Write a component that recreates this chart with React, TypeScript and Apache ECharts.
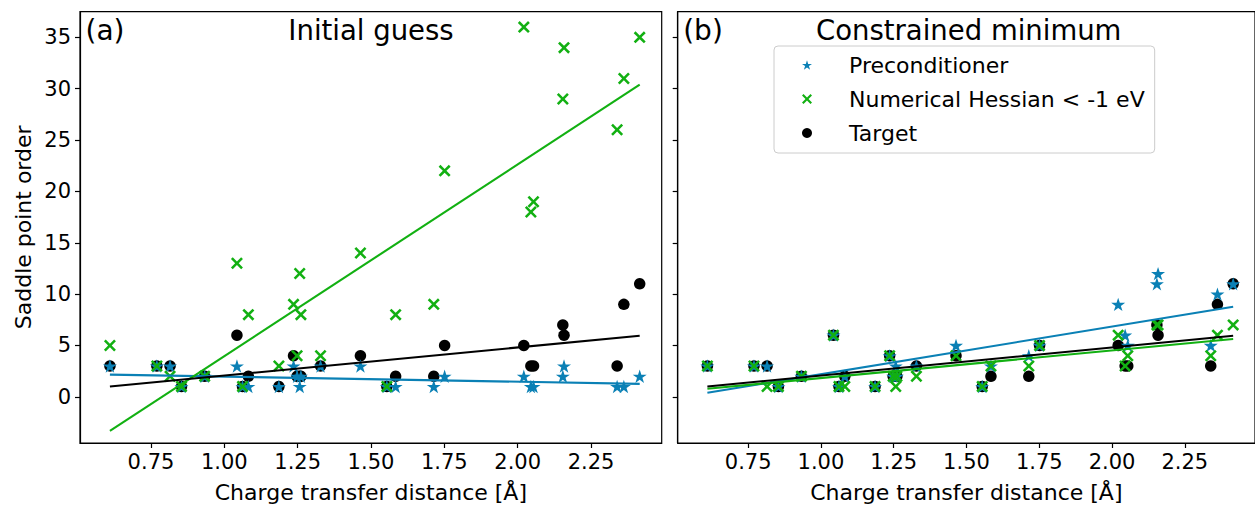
import { useEffect, useRef } from 'react';
import * as echarts from 'echarts';

// Charge transfer distance of each system [Å]
const distance = [
  0.61, 0.77, 0.815, 0.854, 0.933, 1.043, 1.062, 1.082, 1.186, 1.236, 1.248, 1.257, 1.261, 1.328,
  1.464, 1.554, 1.584, 1.714, 1.751, 2.021, 2.045, 2.054, 2.154, 2.158, 2.339, 2.362, 2.416,
];
// Saddle point order of the target saddle point
const targetOrder = [3, 3, 3, 1, 2, 6, 1, 2, 1, 4, 2, 2, 2, 3, 4, 1, 2, 2, 5, 5, 3, 3, 7, 6, 3, 9, 11];
// (a) initial guess
const precondInitial = [3, 3, 3, 1, 2, 3, 1, 1, 1, 3, 2, 1, 2, 3, 3, 1, 1, 1, 2, 2, 1, 1, 2, 3, 1, 1, 2];
const hessianInitial = [5, 3, 2, 1, 2, 13, 1, 8, 3, 9, 4, 12, 8, 4, 14, 1, 8, 9, 22, 36, 18, 19, 29, 34, 26, 31, 35];
// (b) constrained minimum
const precondConstrained = [3, 3, 3, 1, 2, 6, 1, 2, 1, 4, 2, 3, 2, 3, 5, 1, 3, 4, 5, 9, 6, 5, 11, 12, 5, 10, 11];
const hessianConstrained = [3, 3, 1, 1, 2, 6, 1, 1, 1, 4, 2, 1, 2, 2, 4, 1, 3, 3, 5, 6, 3, 4, 7, 7, 4, 6, 7];

// Linear trend lines: values at the two ends of the distance range
const trendRange = [0.61, 2.416];
const trendTarget = [1.0, 5.94];
const trendPrecondInitial = [2.16, 1.26];
const trendHessianInitial = [-3.33, 30.4];
const trendPrecondConstrained = [0.39, 8.77];
const trendHessianConstrained = [0.78, 5.63];

const xTicks = [0.75, 1.0, 1.25, 1.5, 1.75, 2.0, 2.25];
const yTicks = [0, 5, 10, 15, 20, 25, 30, 35];
const panelTitles = ['Initial guess', 'Constrained minimum'];
const panelTags = ['(a)', '(b)'];
const seriesNames = ['Preconditioner', 'Numerical Hessian < -1 eV', 'Target'];

const FONT = 'DejaVu Sans';
const BLUE = '#0a80b5';
const GREEN = '#12b012';
const BLACK = '#000000';

const STAR =
  'path://M10,0 L12.245,6.91 L19.511,6.91 L13.633,11.18 L15.878,18.09 L10,13.82 L4.122,18.09 L6.367,11.18 L0.489,6.91 L7.755,6.91 Z';
const CROSS =
  'path://M1.8,0 L6,4.2 L10.2,0 L12,1.8 L7.8,6 L12,10.2 L10.2,12 L6,7.8 L1.8,12 L0,10.2 L4.2,6 L0,1.8 Z';

const X_MIN = 0.508;
const X_MAX = 2.491;
const Y_MIN = -4.5;
const Y_MAX = 37.5;

const gridLayout = [
  { left: 80, top: 11.7, width: 581.7, height: 432.6 },
  { left: 677.7, top: 11.7, width: 582, height: 432.6 },
];

function points(values: number[]) {
  return distance.map((x, i) => [x, values[i]]);
}

function trend(values: number[]) {
  return trendRange.map((x, i) => [x, values[i]]);
}

function panelSeries(idx: number, precond: number[], hessian: number[], precondTrend: number[], hessianTrend: number[]) {
  const axes = { xAxisIndex: idx, yAxisIndex: idx };
  const line = (name: string, data: number[][], color: string) => ({
    type: 'line',
    name,
    ...axes,
    data,
    symbol: 'none',
    showSymbol: false,
    silent: true,
    z: 3,
    lineStyle: { color, width: 2.1 },
    itemStyle: { color },
  });
  return [
    {
      type: 'scatter',
      name: seriesNames[2],
      ...axes,
      data: points(targetOrder),
      symbol: 'circle',
      symbolSize: 11.5,
      itemStyle: { color: BLACK, opacity: 1 },
    },
    {
      type: 'scatter',
      name: seriesNames[0],
      ...axes,
      data: points(precond),
      symbol: STAR,
      symbolSize: 14,
      symbolKeepAspect: true,
      itemStyle: { color: BLUE, opacity: 1 },
    },
    {
      type: 'scatter',
      name: seriesNames[1],
      ...axes,
      data: points(hessian),
      symbol: CROSS,
      symbolSize: 12,
      itemStyle: { color: GREEN, opacity: 1 },
    },
    line('trend-precond-' + idx, trend(precondTrend), BLUE),
    line('trend-hessian-' + idx, trend(hessianTrend), GREEN),
    line('trend-target-' + idx, trend(trendTarget), BLACK),
  ];
}

function buildOption() {
  const axisLineStyle = { color: BLACK, width: 1.2 };
  const xAxes = [0, 1].map((i) => ({
    type: 'value',
    gridIndex: i,
    min: X_MIN,
    max: X_MAX,
    splitLine: { show: false },
    axisLine: { show: true, onZero: false, lineStyle: axisLineStyle },
    axisTick: { show: true, inside: false, length: 5, lineStyle: axisLineStyle, customValues: xTicks },
    axisLabel: {
      show: true,
      customValues: xTicks,
      formatter: (v: number) => v.toFixed(2),
      fontSize: 21,
      fontFamily: FONT,
      color: BLACK,
      margin: 8,
    },
    name: 'Charge transfer distance [Å]',
    nameLocation: 'middle',
    nameGap: 38,
    nameTextStyle: { fontSize: 22, fontFamily: FONT, color: BLACK },
  }));
  const yAxes = [0, 1].map((i) => ({
    type: 'value',
    gridIndex: i,
    min: Y_MIN,
    max: Y_MAX,
    splitLine: { show: false },
    axisLine: { show: true, onZero: false, lineStyle: axisLineStyle },
    axisTick: { show: true, inside: false, length: 5, lineStyle: axisLineStyle, customValues: yTicks },
    axisLabel: {
      show: i === 0,
      customValues: yTicks,
      formatter: (v: number) => String(v),
      fontSize: 21,
      fontFamily: FONT,
      color: BLACK,
      margin: 9,
    },
    name: i === 0 ? 'Saddle point order' : '',
    nameLocation: 'middle',
    nameGap: 46,
    nameTextStyle: { fontSize: 22, fontFamily: FONT, color: BLACK },
  }));

  const graphic: any[] = [];
  gridLayout.forEach((g, i) => {
    graphic.push({
      type: 'text',
      x: g.left + 5.5,
      y: 30.5,
      silent: true,
      style: {
        text: panelTags[i],
        fill: BLACK,
        font: `28px "${FONT}"`,
        textAlign: 'left',
        textVerticalAlign: 'middle',
        align: 'left',
        verticalAlign: 'middle',
      },
    });
    graphic.push({
      type: 'text',
      x: g.left + 291,
      y: 30,
      silent: true,
      style: {
        text: panelTitles[i],
        fill: BLACK,
        font: `27.5px "${FONT}"`,
        textAlign: 'center',
        textVerticalAlign: 'middle',
        align: 'center',
        verticalAlign: 'middle',
      },
    });
  });

  return {
    animation: false,
    backgroundColor: '#ffffff',
    grid: gridLayout.map((g) => ({
      ...g,
      show: true,
      borderColor: BLACK,
      borderWidth: 1.2,
      backgroundColor: 'transparent',
      containLabel: false,
    })),
    xAxis: xAxes,
    yAxis: yAxes,
    legend: {
      data: seriesNames,
      orient: 'vertical',
      left: 774,
      top: 46,
      padding: [8, 10, 9, 28],
      itemWidth: 10,
      itemHeight: 10,
      itemGap: 12,
      selectedMode: false,
      backgroundColor: 'rgba(255,255,255,0.8)',
      borderColor: '#cccccc',
      borderWidth: 1,
      borderRadius: 4,
      textStyle: {
        fontSize: 22,
        fontFamily: FONT,
        color: BLACK,
        lineHeight: 22,
        padding: [0, 0, 0, 32],
      },
    },
    graphic,
    series: [
      ...panelSeries(0, precondInitial, hessianInitial, trendPrecondInitial, trendHessianInitial),
      ...panelSeries(1, precondConstrained, hessianConstrained, trendPrecondConstrained, trendHessianConstrained),
    ],
  };
}

export default function App() {
  const ref = useRef<HTMLDivElement>(null);
  useEffect(() => {
    if (!ref.current) return;
    const chart = echarts.init(ref.current, undefined, { renderer: 'svg' });
    chart.setOption(buildOption() as any);
    return () => chart.dispose();
  }, []);
  return (
    <div
      ref={ref}
      style={{ position: 'absolute', left: 0, top: 0, width: 1255, height: 508, background: '#fff' }}
    />
  );
}
